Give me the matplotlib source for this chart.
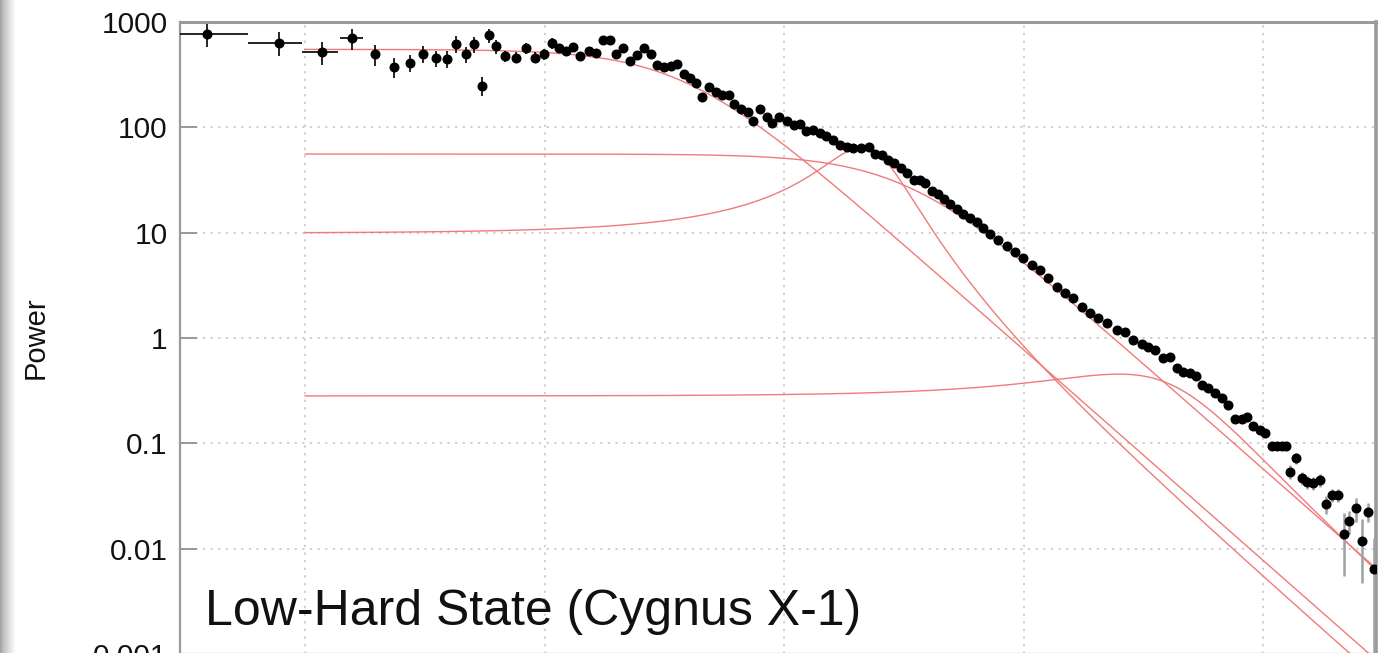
import numpy as np
import matplotlib
matplotlib.use("Agg")
import matplotlib.pyplot as plt
from matplotlib.ticker import LogLocator, FuncFormatter, NullLocator

plt.rcParams['font.family'] = ['Liberation Sans', 'DejaVu Sans']

# frequency (Hz) and power of the binned PSD
freq = [0.00389, 0.00779, 0.01174, 0.01567, 0.0196, 0.02337, 0.02731, 0.03111, 0.03507, 0.03905,
        0.04281, 0.04688, 0.05063, 0.05467, 0.05836, 0.06232, 0.06808, 0.07603, 0.08355, 0.09127,
        0.09952, 0.1072, 0.1142, 0.1224, 0.1312, 0.1403, 0.1524, 0.1633, 0.176, 0.1872,
        0.1988, 0.2128, 0.2275, 0.2433, 0.2596, 0.2766, 0.2958, 0.3155, 0.3364, 0.3565,
        0.3799, 0.404, 0.4291, 0.4533, 0.4861, 0.5176, 0.5521, 0.5881, 0.6195, 0.6627,
        0.704, 0.7443, 0.7939, 0.8468, 0.891, 0.953, 1.026, 1.094, 1.166, 1.236,
        1.325, 1.409, 1.502, 1.602, 1.709, 1.827, 1.947, 2.097, 2.264, 2.399,
        2.558, 2.718, 2.888, 3.065, 3.263, 3.483, 3.697, 3.88, 4.138, 4.375,
        4.634, 4.933, 5.261, 5.606, 5.978, 6.376, 6.795, 7.246, 7.825, 8.509,
        9.216, 9.98, 10.82, 11.72, 12.69, 13.76, 14.91, 16.14, 17.5, 18.96,
        20.53, 22.26, 24.49, 26.53, 28.74, 31.15, 33.1, 35.41, 38.34, 40.9,
        43.62, 46.48, 49.57, 52.26, 55.47, 59.1, 63.04, 67.24, 71.64, 76.4,
        81.49, 85.48, 91.09, 97.16, 101.9, 108.7, 114.1, 119.7, 124.7, 129.7,
        137.3, 145.1, 152.2, 162.2, 173.0, 183.2, 193.6, 206.3, 217.9, 229.3,
        244.5, 258.3, 275.3, 290.8]

power = [769, 636, 522, 700, 494, 376, 408, 497, 452, 450,
         622, 495, 615, 248, 748, 588, 475, 460, 563, 460,
         494, 632, 572, 525, 579, 475, 536, 513, 681, 675,
         500, 563, 423, 481, 572, 497, 388, 374, 380, 399,
         323, 292, 266, 196, 241, 216, 204, 203, 166, 149,
         140, 116, 148, 124, 110, 124.5, 115, 106, 107.5, 93.2,
         95.3, 87.7, 82.1, 75.7, 67.9, 65.4, 64.3, 64.3, 64.6, 56.4,
         54.6, 49.4, 45.5, 40.8, 36.6, 31.9, 31.8, 29.4, 25.0, 23.3,
         20.9, 18.7, 16.8, 15.2, 13.8, 12.6, 11.1, 9.70, 8.51, 7.46,
         6.59, 5.70, 4.92, 4.41, 3.68, 3.06, 2.65, 2.38, 1.98, 1.71,
         1.54, 1.38, 1.19, 1.15, 0.955, 0.875, 0.820, 0.767, 0.640, 0.663,
         0.518, 0.478, 0.461, 0.439, 0.357, 0.332, 0.298, 0.267, 0.231, 0.172,
         0.169, 0.179, 0.146, 0.133, 0.124, 0.0941, 0.0941, 0.0941, 0.0941, 0.0536,
         0.0728, 0.0464, 0.0431, 0.0416, 0.0447, 0.0265, 0.0322, 0.0322, 0.0137, 0.0182,
         0.0241, 0.0119, 0.0224, 0.00635]

# relative 1-sigma error of each point
rel_err = ([0.25] * 3 + [0.22] * 3 + [0.18] * 7 + [0.2] + [0.15] * 2 + [0.12] * 6
           + [0.07] * 18 + [0.04] * 40 + [0.03] * 45 + [0.05] * 4
           + [0.15, 0.12, 0.14, 0.14, 0.14, 0.14, 0.2, 0.14, 0.14, 0.6, 0.25, 0.25, 0.6, 0.2, 1.0])

# frequency bin edges of the first (wide) bins
bin_lo = [0.00300, 0.00578, 0.00972, 0.0140]
bin_hi = [0.00578, 0.00972, 0.0137, 0.0175]

# Lorentzian components: normalisation, centre (Hz), half width (Hz)
comp_norm = [550, 55.8, 65, 0.454]
comp_centre = [0, 0, 2.12, 25]
comp_width = [0.375, 3.2, 0.9, 32]

freq = np.array(freq)
power = np.array(power)
rel_err = np.array(rel_err)
sig = power * rel_err
ylo = np.minimum(sig, power * 0.999)
yerr = np.vstack([ylo, sig])

fig = plt.figure(figsize=(13.89, 6.53), dpi=100)
ax = fig.add_axes([180 / 1389, -1 / 653, 1196 / 1389, 632 / 653])

red = '#f07a7a'
fgrid = np.logspace(-2, np.log10(300), 600)
for n, c, w in zip(comp_norm, comp_centre, comp_width):
    ax.plot(fgrid, n / (1 + ((fgrid - c) / w) ** 2), color=red, lw=1.0, zorder=2)

nb = len(bin_lo)
xerr = np.vstack([freq[:nb] - np.array(bin_lo), np.array(bin_hi) - freq[:nb]])
ax.errorbar(freq[:nb], power[:nb], xerr=xerr, yerr=yerr[:, :nb], fmt='none',
            ecolor='black', elinewidth=1.2, zorder=3)
cut = 129
ax.errorbar(freq[nb:cut], power[nb:cut], yerr=yerr[:, nb:cut], fmt='none',
            ecolor='black', elinewidth=1.2, zorder=3)
ax.errorbar(freq[cut:], power[cut:], yerr=yerr[:, cut:], fmt='none',
            ecolor='#a0a0a0', elinewidth=1.8, zorder=3)
ax.plot(freq, power, 'o', color='black', ms=6.2, zorder=4)

ax.set_xscale('log')
ax.set_yscale('log')
ax.set_xlim(0.003, 296)
ax.set_ylim(0.001, 1000)

ax.yaxis.set_major_locator(LogLocator(base=10, numticks=12))
ax.yaxis.set_minor_locator(NullLocator())
ax.xaxis.set_minor_locator(NullLocator())
ax.yaxis.set_major_formatter(FuncFormatter(lambda v, p: '%g' % v))
ax.tick_params(axis='y', direction='in', length=12, width=1.4, color='#999999',
               labelsize=21.5, pad=9, labelcolor='#111111')
ax.tick_params(axis='x', bottom=False, labelbottom=False)

ax.grid(True, which='major', color='#c4c4c4', ls=(0, (1.5, 3.5)), lw=1.1, zorder=0)
for side in ['left', 'top', 'right', 'bottom']:
    ax.spines[side].set_color('#9a9a9a')
    ax.spines[side].set_linewidth(1.6)
ax.spines['right'].set_linewidth(2.6)
ax.spines['top'].set_linewidth(2.2)

fig.text(36 / 1389, 1 - 338 / 653, 'Power', rotation=90, ha='center', va='center',
         fontsize=21, color='#111111')
fig.text(205 / 1389, 1 - 625 / 653, 'Low-Hard State (Cygnus X-1)', ha='left',
         va='baseline', fontsize=36, color='#111111')

# page shadow on the left edge
sh = fig.add_axes([0, 0, 16 / 1389, 1])
grad = np.linspace(0, 1, 64) ** 0.7
sh.imshow(grad[None, :], aspect='auto', cmap='gray', vmin=-1.6, vmax=1.0,
          extent=[0, 1, 0, 1])
sh.set_axis_off()

fig.savefig('out.png', dpi=100)
